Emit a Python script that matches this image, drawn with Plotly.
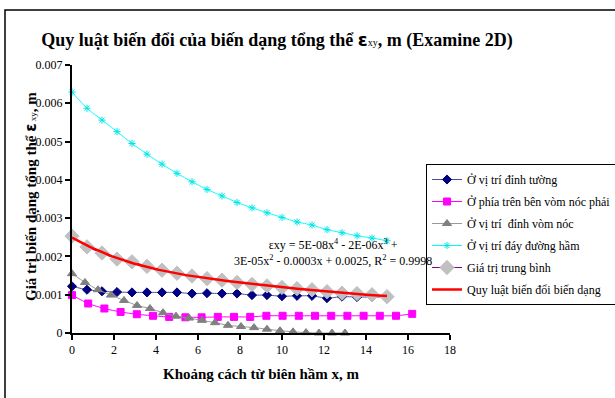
import numpy as np
import plotly.graph_objects as go

# Distances from the tunnel boundary (m) for each observation line, 22 nodes each
x_tuong = np.linspace(0, 15.0, 22)
x_vom_phai = np.linspace(0, 16.2, 22)
x_dinh_vom = np.linspace(0, 13.0, 22)
x_day = np.linspace(0, 15.0, 22)
x_tb = np.linspace(0, 15.0, 22)

# Total strain values (x 0.001)
eps_tuong = [1.22, 1.13, 1.09, 1.07, 1.06, 1.06, 1.06, 1.06, 1.03, 1.04, 1.03,
             1.03, 0.99, 0.99, 0.96, 0.97, 0.97, 0.91, 0.95, 0.94, 0.94, 0.94]
eps_vom_phai = [0.99, 0.77, 0.64, 0.55, 0.49, 0.45, 0.42, 0.41, 0.41, 0.42, 0.42,
                0.42, 0.45, 0.45, 0.45, 0.45, 0.45, 0.45, 0.45, 0.45, 0.45, 0.50]
eps_dinh_vom = [1.55, 1.32, 1.13, 0.99, 0.85, 0.72, 0.64, 0.53, 0.44, 0.39, 0.33,
                0.27, 0.20, 0.17, 0.14, 0.10, 0.06, 0.03, 0.01, 0.0, 0.0, 0.0]
eps_day = [6.29, 5.87, 5.56, 5.26, 4.95, 4.67, 4.41, 4.17, 3.95, 3.75, 3.58,
           3.41, 3.27, 3.14, 3.02, 2.90, 2.82, 2.70, 2.62, 2.54, 2.48, 2.41]
eps_tb = [2.53, 2.25, 2.09, 1.93, 1.86, 1.74, 1.64, 1.56, 1.49, 1.42, 1.38,
          1.32, 1.27, 1.23, 1.19, 1.16, 1.13, 1.08, 1.04, 1.03, 1.00, 0.95]

names = ["Ở vị trí đỉnh tường", "Ở phía trên bên vòm nóc phải", "Ở vị trí  đỉnh vòm nóc",
         "Ở vị trí đáy đường hầm", "Giá trị trung bình", "Quy luật biến đổi biến dạng"]

eq_line1 = "εxy = 5E-08x<sup>4</sup> - 2E-06x<sup>3</sup> +"
eq_line2 = "3E-05x<sup>2</sup> - 0.0003x + 0.0025, R<sup>2</sup> = 0.9998"

SERIF = "Times New Roman, Liberation Serif, serif"

def scale(v):
    return [a * 0.001 for a in v]

# 4th-order polynomial trendline through the average values
coef = np.polyfit(x_tb, scale(eps_tb), 4)
x_fit = np.linspace(0, 15.0, 200)
y_fit = np.polyval(coef, x_fit)

fig = go.Figure()

def add_series(x, y, name, line_color, marker_color, symbol, size, group, lw=1):
    fig.add_trace(go.Scatter(
        x=x, y=scale(y), name=name, mode="lines+markers", legendgroup=group,
        line=dict(color=line_color, width=lw, shape="spline", smoothing=0.6),
        marker=dict(color=marker_color, symbol=symbol, size=size,
                    line=dict(color=marker_color, width=1)),
        cliponaxis=False,
    ))

add_series(x_tuong, eps_tuong, names[0], "#4B4BA0", "#000080", "diamond", 7, "g0")
add_series(x_vom_phai, eps_vom_phai, names[1], "#FF00FF", "#FF00FF", "square", 7, "g1")
add_series(x_dinh_vom, eps_dinh_vom, names[2], "#999999", "#808080", "triangle-up", 8, "g2")
add_series(x_day, eps_day, names[3], "#00FFFF", "#00E5E5", "asterisk-open", 6, "g3")
add_series(x_tb, eps_tb, names[4], "#800080", "#C0C0C0", "diamond", 11, "g4")

fig.add_trace(go.Scatter(
    x=x_fit, y=y_fit, name=names[5], mode="lines", legendgroup="g5",
    line=dict(color="#FF0000", width=2.5), cliponaxis=False,
))

# pixel -> paper helpers for the fixed 615x398 canvas
L, R, T, B = 72, 450, 65, 333
def px(xp):
    return (xp - L) / (R - L)
def py(yp):
    return (B - yp) / (B - T)

fig.add_annotation(x=12.43, y=0.00210, xref="x", yref="y",
                   text=eq_line1 + "<br>" + eq_line2, showarrow=False,
                   align="center", font=dict(family=SERIF, size=12, color="black"))

fig.add_annotation(x=px(20), y=py(197), xref="paper", yref="paper",
                   text="Giá trị biến dạng tổng thể <span style='font-family:DejaVu Sans'>ε</span>"
                        "<span style='font-size:9px;font-weight:normal'> xy</span>, m",
                   textangle=-90, showarrow=False,
                   font=dict(family=SERIF, size=15, color="black", weight="bold"))

fig.add_annotation(x=px(261), y=py(384), xref="paper", yref="paper",
                   text="Khoảng cách từ biên hầm x, m", showarrow=False,
                   font=dict(family=SERIF, size=15, color="black", weight="bold"))

# outer frame (left and top edges visible)
fig.add_shape(type="rect", xref="paper", yref="paper",
              x0=px(5), y0=py(10), x1=px(700), y1=py(500),
              line=dict(color="black", width=1.5), fillcolor="rgba(0,0,0,0)", layer="below")

fig.update_layout(
    width=615, height=398,
    margin=dict(l=L, r=615 - R, t=T, b=398 - B, autoexpand=False),
    paper_bgcolor="white", plot_bgcolor="white",
    title=dict(text="Quy luật biến đổi của biến dạng tổng thể "
                    "<span style='font-family:DejaVu Sans'>ε</span>"
                    "<span style='font-size:10px;font-weight:normal'>xy</span>, m (Examine 2D)",
               x=277 / 615, xanchor="center", y=1 - 40 / 398, yanchor="middle",
               yref="container",
               font=dict(family=SERIF, size=18, color="black", weight="bold")),
    font=dict(family=SERIF, size=12, color="black"),
    showlegend=True,
    legend=dict(x=px(426), y=py(164), xanchor="left", yanchor="top",
                bgcolor="white", bordercolor="black", borderwidth=1,
                font=dict(family=SERIF, size=12, color="black"),
                tracegroupgap=3, itemwidth=30, traceorder="grouped"),
    xaxis=dict(range=[0, 18], dtick=2, tick0=0, showgrid=False, zeroline=False,
               showline=True, linecolor="black", linewidth=2,
               ticks="outside", ticklen=5, tickcolor="black", tickwidth=1.5,
               tickfont=dict(family=SERIF, size=12)),
    yaxis=dict(range=[0, 0.007], dtick=0.001, tick0=0, showgrid=False, zeroline=False,
               showline=True, linecolor="black", linewidth=2,
               ticks="outside", ticklen=5, tickcolor="black", tickwidth=1.5,
               tickfont=dict(family=SERIF, size=12)),
)

fig.write_html("out.html")
